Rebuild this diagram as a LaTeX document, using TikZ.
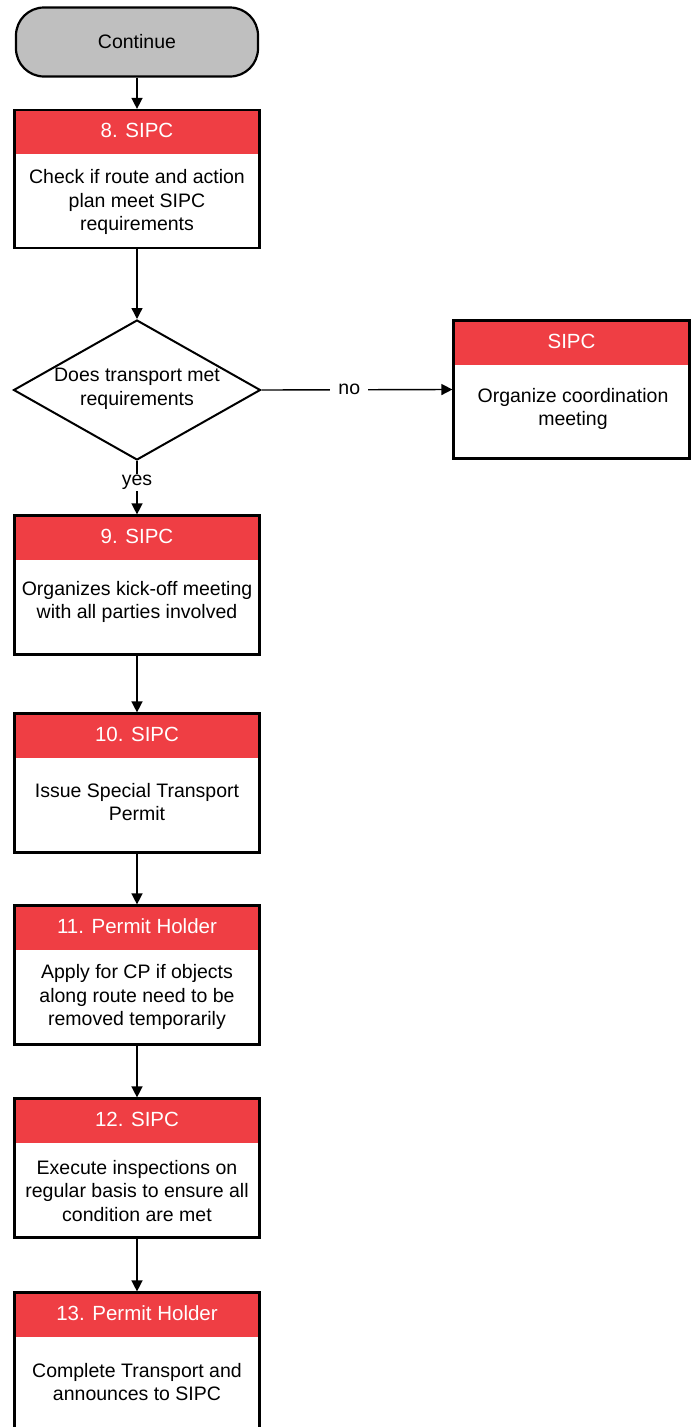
\documentclass[tikz,border=0pt]{standalone}
\usepackage{fontspec}
\setmainfont{Liberation Sans}
\usetikzlibrary{arrows.meta,shapes.geometric}
\definecolor{hdrred}{HTML}{EF3E44}
\definecolor{termgray}{HTML}{BFBFBF}
\begin{document}
\begin{tikzpicture}[x=1pt,y=-1pt,
  stepbox/.style={draw, line width=2.2pt, fill=white, minimum width=245pt,
    minimum height=138pt, inner sep=0pt,
    path picture={\fill[hdrred] (path picture bounding box.north west)
      rectangle ([yshift=-44pt]path picture bounding box.north east);}},
  hdr/.style={text=white, font=\fontsize{20.5}{24}\selectfont},
  body/.style={align=center, font=\fontsize{19.5}{23.5}\selectfont},
  term/.style={draw, line width=2.2pt, fill=termgray, rounded corners=28pt,
    minimum width=242pt, minimum height=69pt, font=\fontsize{19.5}{23.5}\selectfont},
  decision/.style={draw, diamond, line width=2pt, fill=white, inner sep=0pt,
    minimum width=247pt, minimum height=140pt},
  conn/.style={line width=1.4pt, -{Triangle[length=11pt,width=11pt]}},
  lbl/.style={fill=white, font=\fontsize{19.5}{23.5}\selectfont},
]
\useasboundingbox (0,0) rectangle (691,1427);
\clip (0,0) rectangle (691,1427);

% terminal
\node[term] (cont) at (137,42) {\raisebox{-1.5pt}{Continue}};

% step 8
\node[stepbox] (b8) at (137,179) {};
\node[hdr] (h8) at ([yshift=-22pt]b8.north) {8. SIPC};
\node[body] (t8) at (137,202) {Check if route and action\\plan meet SIPC\\requirements};

% decision
\node[decision] (d) at (137,390) {};
\node[body] (dt) at (137,389) {Does transport met\\requirements};

% side box
\node[stepbox, minimum width=236pt] (sb) at (571.5,389.5) {};
\node[hdr] (hs) at ([yshift=-22pt]sb.north) {SIPC};
\node[body] (ts) at (573,409) {Organize coordination\\meeting};

% step 9
\node[stepbox, minimum height=139pt] (b9) at (137,585) {};
\node[hdr] (h9) at ([yshift=-22pt]b9.north) {9. SIPC};
\node[body] (t9) at (137,602) {Organizes kick-off meeting\\with all parties involved};

% step 10
\node[stepbox, minimum height=139pt] (b10) at (137,783) {};
\node[hdr] (h10) at ([yshift=-22pt]b10.north) {10. SIPC};
\node[body] (t10) at (137,802) {Issue Special Transport\\Permit};

% step 11
\node[stepbox, minimum height=139pt] (b11) at (137,975) {};
\node[hdr] (h11) at ([yshift=-22pt]b11.north) {11. Permit Holder};
\node[body] (t11) at (137,997) {Apply for CP if objects\\along route need to be\\removed temporarily};

% step 12
\node[stepbox, minimum height=139pt] (b12) at (137,1168) {};
\node[hdr] (h12) at ([yshift=-22pt]b12.north) {12. SIPC};
\node[body] (t12) at (137,1191) {Execute inspections on\\regular basis to ensure all\\condition are met};

% step 13
\node[stepbox, minimum height=139pt] (b13) at (137,1362) {};
\node[hdr] (h13) at ([yshift=-22pt]b13.north) {13. Permit Holder};
\node[body] (t13) at (137,1382) {Complete Transport and\\announces to SIPC};

% connectors
\draw[conn] (cont) -- (b8);
\draw[conn] (b8) -- (d);
\draw[conn] (d.east) -- node[lbl, pos=0.46, inner xsep=8pt] {no} (sb.west);
\draw[conn] (d.south) -- node[lbl, pos=0.4, inner sep=1.5pt] {yes} (b9.north);
\draw[conn] (b9) -- (b10);
\draw[conn] (b10) -- (b11);
\draw[conn] (b11) -- (b12);
\draw[conn] (b12) -- (b13);
\end{tikzpicture}
\end{document}
